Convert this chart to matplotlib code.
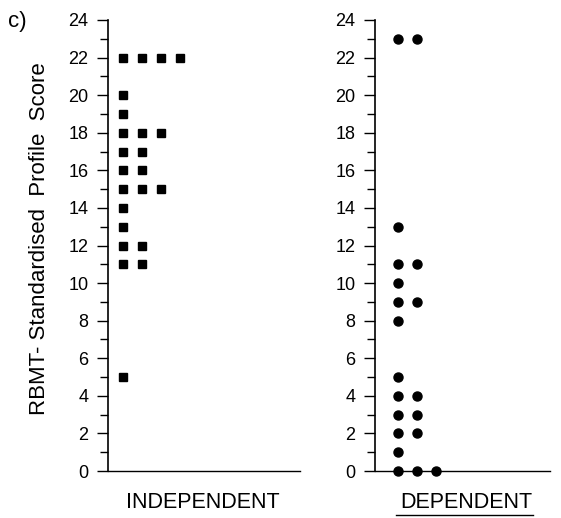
import matplotlib
matplotlib.use("Agg")
import matplotlib.pyplot as plt
from matplotlib.ticker import MultipleLocator

plt.rcParams['font.family'] = ['Liberation Sans', 'DejaVu Sans']

# scores and how many subjects got each score
indep_scores = [22, 20, 19, 18, 17, 16, 15, 14, 13, 12, 11, 5]
indep_counts = [4, 1, 1, 3, 2, 2, 3, 1, 1, 2, 2, 1]
dep_scores = [23, 13, 11, 10, 9, 8, 5, 4, 3, 2, 1, 0]
dep_counts = [2, 1, 2, 1, 2, 1, 1, 2, 2, 2, 1, 3]

y_ticks = list(range(0, 25, 2))


def stack(scores, counts):
    xs, ys = [], []
    for s, c in zip(scores, counts):
        for i in range(c):
            xs.append(i + 1)
            ys.append(s)
    return xs, ys


def style_axis(ax):
    ax.set_ylim(0, 24)
    ax.set_yticks(y_ticks)
    ax.yaxis.set_minor_locator(MultipleLocator(1))
    ax.set_xticks([])
    for side in ("top", "right"):
        ax.spines[side].set_visible(False)
    ax.spines["left"].set_linewidth(1.2)
    ax.spines["bottom"].set_linewidth(1.0)
    ax.tick_params(axis="y", which="major", length=8, width=1.0, labelsize=13, pad=6)
    ax.tick_params(axis="y", which="minor", length=6, width=1.0)


fig = plt.figure(figsize=(5.61, 5.18), dpi=100)
ax1 = fig.add_axes([108 / 561, 47 / 518, 192 / 561, 451 / 518])
ax2 = fig.add_axes([375 / 561, 47 / 518, 175 / 561, 451 / 518])

x, y = stack(indep_scores, indep_counts)
ax1.plot(x, y, ls="none", marker="s", ms=6.3, color="black", clip_on=False)
ax1.set_xlim(0.21, 10.3)
style_axis(ax1)

x, y = stack(dep_scores, dep_counts)
ax2.plot(x, y, ls="none", marker="o", ms=6.5, color="black", clip_on=False, zorder=3)
ax2.set_xlim(-0.21, 9.0)
style_axis(ax2)

fig.text(40 / 561, 1 - 239 / 518, "RBMT- Standardised  Profile  Score",
         rotation=90, ha="center", va="center", fontsize=16)
fig.text(8 / 561, 1 - 22 / 518, "c)", ha="left", va="center", fontsize=16)
fig.text(203 / 561, 1 - 502 / 518, "INDEPENDENT", ha="center", va="center", fontsize=15.5)
fig.text(466 / 561, 1 - 502 / 518, "DEPENDENT", ha="center", va="center", fontsize=15.5)
fig.add_artist(plt.Line2D([396 / 561, 533 / 561], [1 - 515 / 518, 1 - 515 / 518],
                          color="black", lw=1.0))

fig.savefig("out.png", dpi=100)
